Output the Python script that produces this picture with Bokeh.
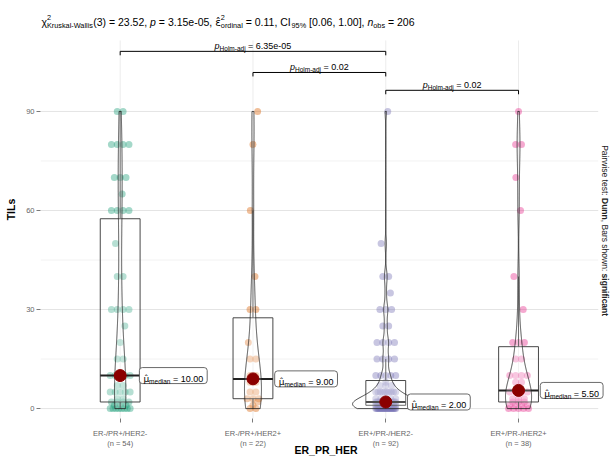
import math
import numpy as np
from bokeh.plotting import figure
from bokeh.models import Label, FixedTicker, Range1d, Rect
from bokeh.embed import file_html
from bokeh.resources import INLINE

# ---------------- data ----------------
categories = ["ER-/PR+/HER2-", "ER-/PR+/HER2+", "ER+/PR-/HER2-", "ER+/PR-/HER2+"]
colors = ["#1B9E77", "#D95F02", "#7570B3", "#E7298A"]

g1_tils = [0, 1, 2, 3, 5, 7, 10, 15, 20, 25, 30, 40, 50, 60, 65, 70, 80, 90]
g1_count = [8, 3, 4, 2, 5, 2, 5, 2, 1, 1, 4, 2, 1, 4, 1, 3, 4, 2]
g2_tils = [0, 1, 2, 3, 5, 8, 10, 15, 20, 30, 40, 60, 80, 90]
g2_count = [2, 1, 1, 3, 2, 2, 2, 2, 1, 2, 1, 1, 1, 1]
g3_tils = [0, 1, 2, 3, 5, 7, 8, 10, 15, 20, 25, 30, 35, 40, 50, 90]
g3_count = [20, 10, 20, 5, 10, 3, 1, 5, 4, 4, 2, 3, 1, 2, 1, 1]
g4_tils = [0, 1, 2, 3, 5, 6, 8, 10, 15, 20, 30, 40, 60, 70, 80, 90]
g4_count = [5, 4, 3, 3, 4, 1, 2, 4, 2, 3, 1, 1, 1, 1, 2, 1]

y_ticks = [0, 30, 60, 90]
y_minor = [15, 45, 75]

kw_stat = "(3) = 23.52, "
kw_p = " = 3.15e-05, "
eps_val = " = 0.11, CI"
ci_val = " [0.06, 1.00], "

pair_from = [1, 2, 3]
pair_to = [3, 3, 4]
pair_p = ["6.35e-05", "0.02", "0.02"]
pair_y = [108.2, 101.8, 96.4]

caption_parts = ["Pairwise test: ", "Dunn", ", Bars shown: ", "significant"]
caption_bold = [False, True, False, True]

FONT = "Liberation Sans"
HATFONT = "DejaVu Sans"

# panel geometry (data units)
X_LO, X_HI = 0.4, 4.6          # ggplot panel extent
Y_LO, Y_HI = -3.0, 123.6       # frame (covers the space above the panel too)
PANEL_TOP = 111.5

# ---------------- text metrics ----------------
REG = {' ': 278, '!': 278, '%': 889, '(': 333, ')': 333, '+': 584, ',': 278, '-': 333,
       '.': 278, '/': 278, ':': 278, '=': 584, '[': 278, ']': 278, '_': 556,
       'A': 667, 'B': 667, 'C': 722, 'D': 722, 'E': 667, 'F': 611, 'G': 778, 'H': 722,
       'I': 278, 'J': 500, 'K': 667, 'L': 556, 'M': 833, 'N': 722, 'O': 778, 'P': 667,
       'R': 722, 'S': 667, 'T': 611, 'U': 722, 'V': 667, 'W': 944,
       'a': 556, 'b': 556, 'c': 500, 'd': 556, 'e': 556, 'f': 278, 'g': 556, 'h': 556,
       'i': 222, 'j': 222, 'k': 500, 'l': 222, 'm': 833, 'n': 556, 'o': 556, 'p': 556,
       'r': 333, 's': 500, 't': 278, 'u': 556, 'v': 500, 'w': 722, 'x': 500, 'y': 500,
       '\u03c7': 520, '\u03b5': 541, '\u03bc': 636, '\u0302': 0}
for d in "0123456789":
    REG[d] = 556
BOLD = {' ': 278, ',': 278, ':': 333, 'D': 722, 'B': 722, 'u': 611, 'n': 611, 's': 556,
        'i': 278, 'g': 611, 'f': 333, 'c': 556, 'a': 556, 't': 333}


def tw(s, size, bold=False):
    tab = BOLD if bold else REG
    return sum(tab.get(c, 556) for c in s) / 1000.0 * size


def piece(t, size, style="normal", down=0.0, adv=None, font=FONT):
    return (t, size, style, down, tw(t, size, style == "bold") if adv is None else adv, font)


def stack(sup, sub, size):
    w = max(tw(sup, size), tw(sub, size))
    return [piece(sup, size, down=-0.62 * size, adv=0), piece(sub, size, down=0.42 * size, adv=w)]


def put_pieces(p, pieces, x, y, start, base_down, color="black"):
    cx = start
    for t, s, st, dn, adv, font in pieces:
        stripped = t.lstrip(" ")
        lead = tw(t[:len(t) - len(stripped)], s, st == "bold")
        p.add_layout(Label(x=x, y=y, x_offset=cx + lead, y_offset=-(base_down + dn),
                           text=stripped.rstrip(" "), text_font=font, text_font_size=f"{s}px",
                           text_font_style=st, text_color=color,
                           text_align="left", text_baseline="alphabetic"))
        cx += adv
    return cx


# ---------------- figure ----------------
p = figure(width=611, height=459, x_range=Range1d(X_LO, 4.70), y_range=Range1d(Y_LO, Y_HI),
           output_backend="svg", toolbar_location=None,
           min_border_left=40, min_border_right=0, min_border_top=0, min_border_bottom=30)
p.outline_line_color = None
p.background_fill_color = "white"
p.border_fill_color = "white"
p.xgrid.visible = False
p.ygrid.visible = False

p.xaxis.ticker = FixedTicker(ticks=[1, 2, 3, 4])
p.yaxis.ticker = FixedTicker(ticks=y_ticks, minor_ticks=y_minor)

groups = [(g1_tils, g1_count), (g2_tils, g2_count), (g3_tils, g3_count), (g4_tils, g4_count)]
p.xaxis.major_label_overrides = {i + 1: f"{categories[i]}\n(n = {sum(groups[i][1])})" for i in range(4)}
p.xaxis.axis_label = "ER_PR_HER"
p.yaxis.axis_label = "TILs"
for ax in (p.xaxis[0], p.yaxis[0]):
    ax.axis_line_color = None
    ax.major_tick_line_color = "#7a7a7a"
    ax.major_tick_in = 0
    ax.major_tick_out = 4
    ax.minor_tick_line_color = None
    ax.major_label_text_font = FONT
    ax.major_label_text_font_size = "7.5px"
    ax.major_label_text_color = "#666666"
    ax.axis_label_text_font = FONT
    ax.axis_label_text_font_style = "bold"
    ax.axis_label_text_font_size = "10.5px"
    ax.axis_label_text_color = "black"
    ax.major_label_standoff = 2
p.yaxis.axis_label_standoff = 6
p.xaxis.axis_label_standoff = -7
p.xaxis.major_label_standoff = 6

# grid lines of the panel
p.segment([X_LO] * len(y_minor), y_minor, [X_HI] * len(y_minor), y_minor, line_color="#f2f2f2", line_width=1)
p.segment([X_LO] * len(y_ticks), y_ticks, [X_HI] * len(y_ticks), y_ticks, line_color="#e4e4e4", line_width=1)
p.segment([1, 2, 3, 4], [Y_LO] * 4, [1, 2, 3, 4], [PANEL_TOP] * 4, line_color="#ececec", line_width=1)


def nrd0(v):
    sd = v.std(ddof=1)
    q = np.percentile(v, [25, 75])
    lo = min(sd, (q[1] - q[0]) / 1.34)
    if lo <= 0:
        lo = sd if sd > 0 else 1.0
    return 0.9 * lo * len(v) ** -0.2


single_pat = [0.0, 0.035, -0.035, 0.015, -0.02]
pts_x, pts_y, pts_c = [], [], []
box = dict(l=[], r=[], b=[], t=[])
wh = dict(x0=[], y0=[], x1=[], y1=[])
med = dict(x0=[], x1=[], y=[])
dens = []
stats = []
for i, (vals, cnts) in enumerate(groups):
    x0 = i + 1
    arr = np.repeat(np.array(vals, float), cnts)
    k = 0
    for v, c in zip(vals, cnts):
        if c == 1:
            offs = [single_pat[k % len(single_pat)]]
            k += 1
        else:
            w = min(0.075, 0.022 * (c - 1))
            offs = np.linspace(-w, w, c)
        for o in offs:
            pts_x.append(x0 + o)
            pts_y.append(v)
            pts_c.append(colors[i])
    q1, m, q3 = np.percentile(arr, [25, 50, 75])
    iqr = q3 - q1
    up = arr[arr <= q3 + 1.5 * iqr].max()
    lo = arr[arr >= q1 - 1.5 * iqr].min()
    box["l"].append(x0 - 0.15); box["r"].append(x0 + 0.15); box["b"].append(q1); box["t"].append(q3)
    wh["x0"] += [x0, x0]; wh["x1"] += [x0, x0]; wh["y0"] += [q3, q1]; wh["y1"] += [up, lo]
    med["x0"].append(x0 - 0.15); med["x1"].append(x0 + 0.15); med["y"].append(m)
    bw = nrd0(arr)
    grid = np.linspace(arr.min(), arr.max(), 512)
    d = np.exp(-0.5 * ((grid[:, None] - arr[None, :]) / bw) ** 2).sum(1) / (len(arr) * bw * math.sqrt(2 * math.pi))
    dens.append((x0, grid, d))
    stats.append((x0, m))

p.scatter(pts_x, pts_y, size=7, fill_color=pts_c, fill_alpha=0.4, line_color=None)
p.segment(wh["x0"], wh["y0"], wh["x1"], wh["y1"], line_color="#333333", line_width=0.9)
p.quad(left=box["l"], right=box["r"], bottom=box["b"], top=box["t"], fill_color="white",
       fill_alpha=0.2, line_color="#333333", line_width=0.9)
p.segment(med["x0"], med["y"], med["x1"], med["y"], line_color="#222222", line_width=2)

dmax = max(d.max() for _, _, d in dens)
vx, vy = [], []
for x0, grid, d in dens:
    half = 0.25 * d / dmax
    vx.append(list(np.concatenate([x0 - half, (x0 + half)[::-1]])))
    vy.append(list(np.concatenate([grid, grid[::-1]])))
p.patches(vx, vy, fill_color="white", fill_alpha=0.2, line_color="#222222", line_width=0.8)

p.scatter([s[0] for s in stats], [s[1] for s in stats], size=12, fill_color="#8B0000",
          line_color="#8B0000")

# median labels
rect_kw = {}
if "border_radius" in Rect.properties():
    rect_kw["border_radius"] = 3
for x0, m in stats:
    pcs = [piece("\u03bc\u0302", 9, font=HATFONT), piece("median", 6.5, down=2.6), piece(f" = {m:.2f}", 9)]
    W = sum(pc[4] for pc in pcs)
    p.rect(x=[x0 + 0.4], y=[m], width=[W + 8], height=[16], width_units="screen",
           height_units="screen", fill_color="white", line_color="#444444", line_width=0.8, **rect_kw)
    put_pieces(p, pcs, x0 + 0.4, m, -W / 2, 3.2)

# pairwise brackets
tip = 1.2
for a, b, pv, yb in zip(pair_from, pair_to, pair_p, pair_y):
    p.segment([a, a, b], [yb, yb, yb], [b, a, b], [yb, yb - tip, yb - tip], line_color="black",
              line_width=1)
    pcs = [piece("p", 9, "italic"), piece("Holm-adj", 6.5, down=2.4), piece(f" = {pv}", 9)]
    W = sum(pc[4] for pc in pcs)
    put_pieces(p, pcs, (a + b) / 2, yb, -W / 2, -5)

# subtitle
sub = [piece("\u03c7", 10.5)] + stack("2", "Kruskal-Wallis", 7.3) + [piece(kw_stat, 10.5), piece("p", 10.5, "italic"),
       piece(kw_p, 10.5), piece("\u03b5\u0302", 10.5, font=HATFONT)] + stack("2", "ordinal", 7.3) + \
      [piece(eps_val, 10.5), piece("95%", 7.3, down=3.0), piece(ci_val, 10.5), piece("n", 10.5, "italic"),
       piece("obs", 7.3, down=3.0), piece(f" = {sum(sum(c) for _, c in groups)}", 10.5)]
put_pieces(p, sub, X_LO, 117.0, 1, 0)

# right-side caption (secondary axis title), rotated
lens = [tw(t, 8.5, b) for t, b in zip(caption_parts, caption_bold)]
L = sum(lens)
cum = 0.0
for t, b, ln in zip(caption_parts, caption_bold, lens):
    stripped = t.lstrip(" ")
    p.add_layout(Label(x=4.654, y=53.9, x_offset=0, y_offset=L / 2 - cum, text=stripped.rstrip(" "),
                       text_font=FONT, text_font_size="8.5px",
                       text_font_style="bold" if b else "normal",
                       text_color="#222222", angle=-math.pi / 2, text_align="left",
                       text_baseline="middle"))
    cum += ln

open("out.html", "w").write(file_html(p, INLINE))
